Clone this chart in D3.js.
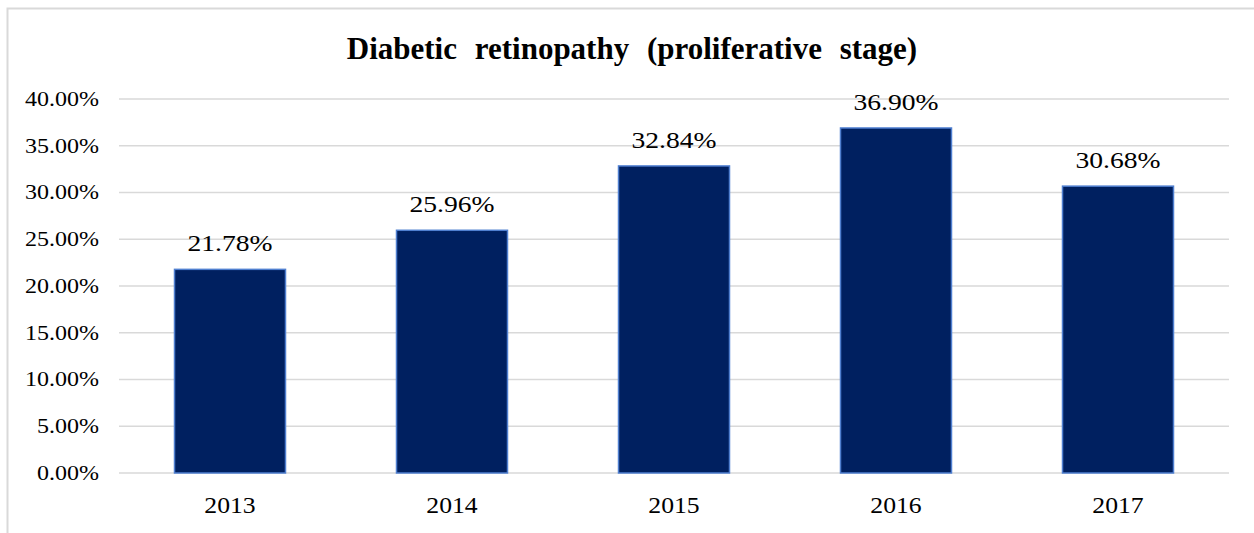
<!DOCTYPE html>
<html>
<head>
<meta charset="utf-8">
<script src="https://cdn.jsdelivr.net/npm/d3@7"></script>
<style>
  body { margin: 0; background: #fff; }
  svg { display: block; }
  text { font-family: "Liberation Serif", "Times New Roman", serif; }
</style>
</head>
<body>
<svg width="1254" height="533"></svg>
<script>
var years = ["2013", "2014", "2015", "2016", "2017"];
var values = [21.78, 25.96, 32.84, 36.90, 30.68];
var yTicks = [0, 5, 10, 15, 20, 25, 30, 35, 40];

var svg = d3.select("svg"),
    width = +svg.attr("width"),
    height = +svg.attr("height");

var margin = {top: 99, right: 25, bottom: 60, left: 119};
var serif = "'Liberation Serif', 'Times New Roman', serif";

// outer chart frame
svg.append("rect")
    .attr("x", 7.5).attr("y", 8.5)
    .attr("width", 1260).attr("height", 560)
    .attr("fill", "#fff")
    .attr("stroke", "#d9d9d9")
    .attr("stroke-width", 2);

svg.append("text")
    .attr("x", 632)
    .attr("y", 59)
    .attr("text-anchor", "middle")
    .style("font-family", serif)
    .style("font-size", "31px")
    .style("font-weight", "bold")
    .style("word-spacing", "10px")
    .text("Diabetic retinopathy (proliferative stage)");

var x = d3.scaleBand()
    .domain(years)
    .range([margin.left, width - margin.right])
    .paddingInner(0.5)
    .paddingOuter(0.25);

var y = d3.scaleLinear()
    .domain([0, 40])
    .range([473, margin.top]);

// gridlines
svg.append("g")
    .selectAll("line")
    .data(yTicks)
    .enter().append("line")
      .attr("x1", margin.left)
      .attr("x2", width - margin.right)
      .attr("y1", function(d) { return y(d); })
      .attr("y2", function(d) { return y(d); })
      .attr("stroke", "#d9d9d9")
      .attr("stroke-width", 1.5);

// y axis labels (text in the reference is a bit stretched sideways)
var yAxis = d3.axisLeft(y)
    .tickValues(yTicks)
    .tickSize(0)
    .tickPadding(0)
    .tickFormat(function(d) { return d.toFixed(2) + "%"; });

svg.append("g")
    .attr("transform", "translate(99,0)")
    .call(yAxis)
    .call(function(g) { g.select(".domain").remove(); })
    .selectAll("text")
      .attr("x", 0)
      .attr("transform", "scale(1.2,1)")
      .style("font-family", serif)
      .style("font-size", "20px")
      .attr("fill", "#000");

// bars
svg.append("g")
    .selectAll("rect")
    .data(values)
    .enter().append("rect")
      .attr("x", function(d, i) { return x(years[i]); })
      .attr("y", function(d) { return y(d); })
      .attr("width", x.bandwidth())
      .attr("height", function(d) { return y(0) - y(d); })
      .attr("fill", "#002060")
      .attr("stroke", "#4f7fd0")
      .attr("stroke-width", 1.5);

// value labels
svg.append("g")
    .selectAll("text")
    .data(values)
    .enter().append("text")
      .attr("transform", function(d, i) {
        return "translate(" + (x(years[i]) + x.bandwidth() / 2) + "," + (y(d) - 18) + ") scale(1.15,1)";
      })
      .attr("text-anchor", "middle")
      .style("font-family", serif)
      .style("font-size", "24px")
      .attr("fill", "#000")
      .text(function(d) { return d.toFixed(2) + "%"; });

// x axis labels
var xAxis = d3.axisBottom(x).tickSize(0).tickPadding(0);

svg.append("g")
    .attr("transform", "translate(0,513)")
    .call(xAxis)
    .call(function(g) { g.select(".domain").remove(); })
    .selectAll("text")
      .attr("y", 0)
      .attr("dy", 0)
      .attr("transform", "scale(1.07,1)")
      .style("font-family", serif)
      .style("font-size", "24px")
      .attr("fill", "#000");
</script>
</body>
</html>
